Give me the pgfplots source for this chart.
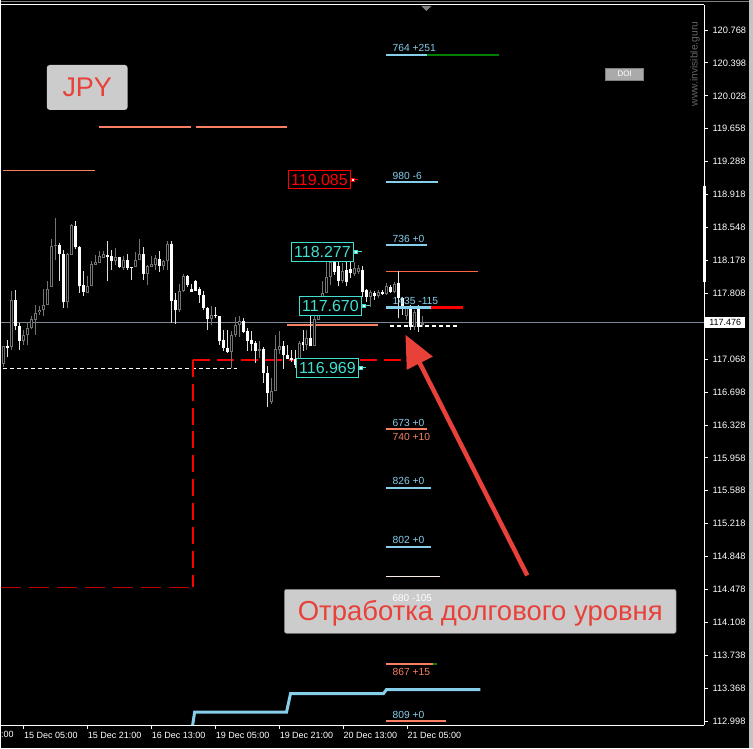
\documentclass[border=0pt]{standalone}
\usepackage{pgfplots}
\pgfplotsset{compat=1.18}
\usepackage{pgfplotstable}
\usepackage{fontspec}
\setmainfont{Liberation Sans}
\usetikzlibrary{arrows.meta}
\definecolor{lvblue}{RGB}{135,206,235}
\definecolor{lvsalmon}{RGB}{250,128,100}
\definecolor{lvtomato}{RGB}{255,100,70}
\definecolor{lvgreen}{RGB}{0,128,0}
\definecolor{turq}{RGB}{64,224,208}
\definecolor{txtred}{RGB}{232,65,58}
\definecolor{boxgray}{RGB}{204,204,204}
\definecolor{cgray}{RGB}{115,115,115}
\definecolor{wgray}{RGB}{170,170,170}
\definecolor{pline}{RGB}{125,135,150}
\definecolor{darkred}{RGB}{190,0,0}
\pgfplotsset{candle/.style={only marks, mark options={draw opacity=0, fill opacity=0}, mark size=0.1pt,
  error bars/.cd, y dir=plus, y explicit, error mark=none}}
\pgfplotstableread{
x o h l c
2.5 117.018 117.220 116.984 117.220
6.5 117.212 117.287 117.089 117.190
10.5 117.201 117.838 117.175 117.736
14.5 117.736 117.849 117.399 117.436
18.5 117.444 117.478 117.175 117.268
22.5 117.268 117.399 117.231 117.343
26.5 117.335 117.490 117.223 117.418
30.5 117.418 117.557 117.410 117.523
34.5 117.512 117.680 117.343 117.591
38.5 117.594 117.661 117.568 117.624
42.5 117.616 117.860 117.549 117.680
46.5 117.672 117.942 117.672 117.860
50.5 117.875 118.421 117.875 118.343
54.5 118.335 118.654 118.186 118.354
58.5 118.354 118.373 117.950 118.253
62.5 118.253 118.298 117.643 117.706
66.5 117.706 118.264 117.646 118.253
70.5 118.242 118.587 118.242 118.571
74.5 118.567 118.624 118.309 118.324
78.5 118.324 118.335 117.812 117.886
82.5 117.905 118.062 117.774 117.823
86.5 117.812 117.998 117.812 117.894
90.5 117.886 118.167 117.886 118.138
94.5 118.130 118.242 118.130 118.155
98.5 118.152 118.279 118.152 118.223
102.5 118.205 118.279 118.205 118.250
106.5 118.242 118.391 117.942 118.212
110.5 118.223 118.298 118.073 118.175
114.5 118.175 118.317 118.130 118.212
118.5 118.212 118.212 118.092 118.104
122.5 118.092 118.223 118.073 118.186
126.5 118.186 118.250 118.073 118.092
130.5 118.104 118.107 117.961 118.100
134.5 118.100 118.272 118.100 118.186
138.5 118.178 118.421 118.178 118.253
142.5 118.253 118.324 117.953 118.028
146.5 118.028 118.130 117.897 118.111
150.5 118.104 118.223 118.104 118.138
154.5 118.130 118.242 118.073 118.205
158.5 118.197 118.287 118.047 118.111
162.5 118.111 118.186 118.073 118.175
166.5 118.167 118.399 118.073 118.362
170.5 118.365 118.391 117.475 117.725
174.5 117.736 117.812 117.463 117.624
178.5 117.624 117.913 117.598 117.838
182.5 117.830 118.025 117.823 117.998
186.5 117.998 118.017 117.875 117.897
190.5 117.860 117.913 117.823 117.823
194.5 117.950 117.961 117.838 117.838
198.5 117.860 117.875 117.699 117.793
202.5 117.793 117.838 117.624 117.643
206.5 117.643 117.650 117.399 117.523
210.5 117.523 117.661 117.455 117.568
214.5 117.568 117.650 117.531 117.549
218.5 117.557 117.557 117.231 117.268
222.5 117.287 117.399 117.156 117.194
226.5 117.194 117.399 117.141 117.149
230.5 117.149 117.380 116.969 117.335
234.5 117.335 117.537 117.313 117.455
238.5 117.455 117.549 117.313 117.493
242.5 117.493 117.531 117.362 117.373
246.5 117.380 117.418 117.164 117.276
250.5 117.287 117.380 117.156 117.239
254.5 117.250 117.276 117.025 117.164
258.5 117.164 117.268 117.082 117.183
262.5 117.183 117.201 116.801 116.913
266.5 116.913 116.987 116.526 116.688
270.5 116.583 116.854 116.565 116.706
274.5 116.714 117.343 116.706 117.186
278.5 117.175 117.388 117.127 117.212
282.5 117.220 117.276 116.962 117.111
286.5 117.119 117.223 117.074 117.074
290.5 117.082 117.175 117.040 117.063
294.5 117.071 117.175 116.969 117.007
298.5 117.007 117.268 116.987 117.250
302.5 117.257 117.399 117.164 117.231
306.5 117.231 117.399 117.175 117.306
310.5 117.306 117.587 117.212 117.212
314.5 117.212 117.587 117.212 117.520
318.5 117.512 117.680 117.512 117.605
322.5 117.605 117.942 117.605 117.812
326.5 117.815 118.164 117.815 117.995
330.5 117.995 118.220 117.905 118.164
334.5 118.164 118.208 118.017 118.051
338.5 118.118 118.164 117.894 117.950
342.5 117.950 118.152 117.928 118.062
346.5 118.073 118.164 117.894 117.939
350.5 118.085 118.175 117.984 118.040
354.5 118.028 118.164 118.006 118.096
358.5 118.051 118.130 118.028 118.096
362.5 118.073 118.118 117.770 117.827
366.5 117.849 117.860 117.714 117.770
370.5 117.770 117.849 117.658 117.827
374.5 117.815 117.838 117.736 117.781
378.5 117.781 117.849 117.759 117.827
382.5 117.827 117.849 117.793 117.804
386.5 117.804 117.928 117.793 117.894
390.5 117.883 117.905 117.815 117.827
394.5 117.827 117.939 117.815 117.917
398.5 117.928 118.062 117.534 117.759
402.5 117.759 117.770 117.568 117.647
406.5 117.557 117.669 117.512 117.647
410.5 117.658 117.680 117.399 117.433
414.5 117.433 117.624 117.399 117.602
418.5 117.658 117.680 117.377 117.433
422.5 117.455 117.557 117.433 117.476
}\candles
\begin{document}
\begin{tikzpicture}[x=1pt,y=1pt]
\fill[black] (0,0) rectangle (753,749);
\fill[wgray!70!white] (749,0) rectangle (753,749);
\draw[gray, line width=1pt] (0,747.5) -- (749,747.5);
\begin{axis}[
  at={(0pt,23pt)}, anchor=south west,
  scale only axis, width=704pt, height=721pt,
  xmin=0, xmax=704, ymin=112.953, ymax=121.049,
  clip=false,
  axis x line*=bottom, axis y line*=right,
  axis line style={white, line width=1pt, -},
  tick align=outside, major tick length=4pt,
  tick style={white, line width=0.8pt},
  /pgf/number format/assume math mode=true,
  xtick={22.7,86.7,150.7,214.7,278.7,342.7,406.7},
  xticklabels={15 Dec 05:00,15 Dec 21:00,16 Dec 13:00,19 Dec 05:00,19 Dec 21:00,20 Dec 13:00,21 Dec 05:00},
  xticklabel style={white, anchor=north west, xshift=-3pt, font=\fontsize{9}{10}\selectfont},
  ytick={112.998,113.368,113.738,114.108,114.478,114.848,115.218,115.588,115.958,116.328,116.698,117.068,117.438,117.808,118.178,118.548,118.918,119.288,119.658,120.028,120.398,120.768},
  yticklabels={112.998,113.368,113.738,114.108,114.478,114.848,115.218,115.588,115.958,116.328,116.698,117.068,{},117.808,118.178,118.548,118.918,119.288,119.658,120.028,120.398,120.768},
  yticklabel style={white, font=\fontsize{9.3}{10}\selectfont, xshift=1pt},
]
% current price line
\addplot[pline, line width=1pt] coordinates {(0,117.476)(704,117.476)};
% level lines
\addplot[lvsalmon, line width=1.3pt] coordinates {(98,119.679)(190,119.679)};
\addplot[lvsalmon, line width=1.3pt] coordinates {(195,119.679)(286,119.679)};
\addplot[lvsalmon, line width=1.3pt] coordinates {(2,119.185)(94,119.185)};
\addplot[lvtomato, line width=1.6pt] coordinates {(386,118.051)(478,118.051)};
\addplot[lvsalmon, line width=1.5pt] coordinates {(286,117.450)(378,117.450)};
\addplot[white, line width=1.2pt, dash pattern=on 4pt off 3pt] coordinates {(390,117.441)(458,117.441)};
\addplot[white, line width=1.2pt, dash pattern=on 4pt off 3pt] coordinates {(2,116.962)(236,116.962)};
\addplot[red, line width=2pt, dash pattern=on 17pt off 7pt] coordinates {(192,117.063)(415,117.063)};
\addplot[red, line width=2pt, dash pattern=on 17pt off 7pt] coordinates {(192,117.063)(192,114.502)};
\addplot[darkred, line width=1.5pt, dash pattern=on 20pt off 8pt] coordinates {(0,114.502)(190,114.502)};
% wicks
\addplot[candle, error bar style={line width=1pt, draw=cgray}]
  table[x=x, y=l, y error expr={(\thisrow{c}>=\thisrow{o})*(\thisrow{h}-\thisrow{l})}] \candles;
\addplot[candle, error bar style={line width=1pt, draw=white!75!gray}]
  table[x=x, y=l, y error expr={(\thisrow{c}<\thisrow{o})*(\thisrow{h}-\thisrow{l})}] \candles;
% bull bodies (hollow)
\addplot[candle, error bar style={line width=3pt, draw=cgray}]
  table[x=x, y=o, y error expr={max(\thisrow{c}-\thisrow{o},0)}] \candles;
\addplot[candle, error bar style={line width=1pt, draw=black}]
  table[x=x, y expr=\thisrow{o}+0.011, y error expr={max(\thisrow{c}-\thisrow{o}-0.022,0)}] \candles;
% bear bodies (white)
\addplot[candle, error bar style={line width=3pt, draw=white}]
  table[x=x, y=c, y error expr={max(\thisrow{o}-\thisrow{c},0)}] \candles;
% level underlines
\addplot[lvblue, line width=2pt] coordinates {(386,120.487)(427,120.487)};
\addplot[lvgreen, line width=2pt] coordinates {(427,120.487)(499,120.487)};
\addplot[lvblue, line width=2pt] coordinates {(386,119.061)(438,119.061)};
\addplot[lvblue, line width=2pt] coordinates {(386,118.354)(427,118.354)};
\addplot[lvblue, line width=2.5pt] coordinates {(386,117.650)(431,117.650)};
\addplot[red, line width=2.5pt] coordinates {(431,117.650)(463,117.650)};
\addplot[lvsalmon, line width=2pt] coordinates {(386,116.277)(427,116.277)};
\addplot[lvblue, line width=2pt] coordinates {(386,115.614)(431,115.614)};
\addplot[lvblue, line width=2pt] coordinates {(386,114.952)(431,114.952)};
\addplot[lvsalmon, line width=2pt] coordinates {(386,113.638)(433,113.638)};
\addplot[lvgreen, line width=2pt] coordinates {(433,113.638)(437,113.638)};
\addplot[lvsalmon, line width=2pt] coordinates {(386,112.998)(446,112.998)};
% step line
\addplot[lvblue, line width=3pt] coordinates {(192,112.953)(194,113.099)(286,113.099)(290,113.307)(383,113.307)(386,113.352)(480,113.352)};
% price boxes markers
\addplot[red, line width=1pt] coordinates {(350,119.085)(358,119.085)};
\addplot[red, mark=square*, mark size=1.5pt, mark options={fill=white}] coordinates {(352,119.085)};
\addplot[turq, line width=1pt] coordinates {(353,118.277)(362,118.277)};
\addplot[turq, mark=square*, mark size=1.5pt, mark options={fill=white}] coordinates {(355,118.277)};
\addplot[turq, line width=1pt] coordinates {(361,117.670)(370,117.670)};
\addplot[turq, mark=square*, mark size=1.5pt, mark options={fill=white}] coordinates {(363,117.670)};
\addplot[turq, line width=1pt] coordinates {(358,116.969)(366,116.969)};
\addplot[turq, mark=square*, mark size=1.5pt, mark options={fill=white}] coordinates {(360,116.969)};
% price boxes
\node[draw=red, text=red, fill=black, line width=0.8pt, inner sep=1pt, minimum width=62pt, minimum height=18pt, font=\fontsize{16}{18}\selectfont] at (axis cs:319,119.085) {119.085};
\node[draw=turq, text=turq, fill=black, line width=0.8pt, inner sep=1pt, minimum width=62pt, minimum height=19pt, font=\fontsize{16}{18}\selectfont] at (axis cs:322,118.277) {118.277};
\node[draw=turq, text=turq, fill=black, line width=0.8pt, inner sep=1pt, minimum width=62pt, minimum height=19pt, font=\fontsize{16}{18}\selectfont] at (axis cs:330,117.670) {117.670};
\node[draw=turq, text=turq, fill=black, line width=0.8pt, inner sep=1pt, minimum width=62pt, minimum height=19pt, font=\fontsize{16}{18}\selectfont] at (axis cs:327,116.969) {116.969};
% level texts
\begin{scope}[every node/.style={anchor=west, inner sep=0pt, font=\fontsize{10.3}{12}\selectfont}]
\node[text=lvblue] at (axis cs:392,120.566) {764 +251};
\node[text=lvblue] at (axis cs:392,119.129) {980 -6};
\node[text=lvblue] at (axis cs:392,118.421) {736 +0};
\node[text=lvblue] at (axis cs:392,117.722) {1435 -115};
\node[text=lvblue] at (axis cs:392,116.355) {673 +0};
\node[text=lvsalmon] at (axis cs:392,116.198) {740 +10};
\node[text=lvblue] at (axis cs:392,115.693) {826 +0};
\node[text=lvblue] at (axis cs:392,115.030) {802 +0};
\node[text=lvsalmon] at (axis cs:392,113.548) {867 +15};
\node[text=lvblue] at (axis cs:392,113.065) {809 +0};
\end{scope}
% JPY box
\node[fill=boxgray, rounded corners=3pt, minimum width=81pt, minimum height=45pt, text=txtred, font=\fontsize{27}{30}\selectfont] at (axis cs:86.5,120.122) {JPY};
% DOI box
\node[fill=wgray, draw=gray, line width=0.6pt, minimum width=38pt, minimum height=12pt, inner sep=0pt, text=white, font=\fontsize{8}{9}\selectfont] at (axis cs:624.5,120.274) {DOI};
% watermark
\node[rotate=90, text=gray!80!black, font=\fontsize{10.3}{11}\selectfont] at (axis cs:695,120.385) {www.invisible.guru};
% Russian box
\node[fill=boxgray, draw=gray, line width=0.6pt, rounded corners=2pt, minimum width=392pt, minimum height=44pt, inner sep=0pt] at (axis cs:480,114.233) {};
\addplot[white!85!lvsalmon, line width=1.5pt] coordinates {(386,114.626)(440,114.626)};
\node[anchor=west, inner sep=0pt, text=white, font=\fontsize{10}{12}\selectfont] at (axis cs:392,114.380) {680 -105};
\node[text=txtred, font=\fontsize{27.5}{29}\selectfont] at (axis cs:480,114.210) {Отработка долгового уровня};
% arrow
\addplot[txtred, line width=4.5pt, -{Triangle[length=32pt, width=28pt]}] coordinates {(527,114.637)(405,117.343)};
% current price label
\node[fill=white, text=black, anchor=west, inner sep=1pt, minimum height=11pt, minimum width=40pt, font=\fontsize{9}{10}\selectfont] at (axis cs:705,117.476) {117.476};
\node[anchor=north west, inner sep=0pt, text=white, font=\fontsize{9}{10}\selectfont, yshift=-6pt] at (axis cs:0,112.953) {:00};
\end{axis}
\fill[white] (703,467) rectangle (706,563);
\fill[gray] (421,743) -- (431,743) -- (426,738) -- cycle;
\draw[white, line width=1pt] (0,744) -- (704,744);
\end{tikzpicture}
\end{document}
